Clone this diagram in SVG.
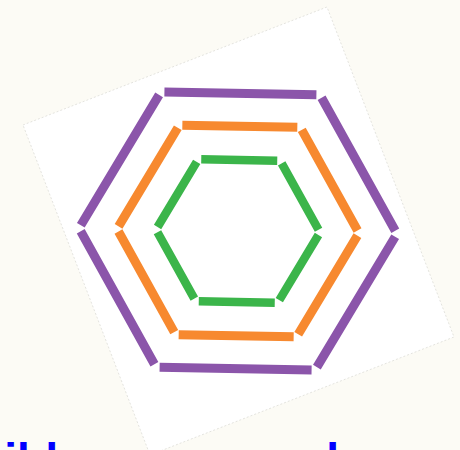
<svg xmlns="http://www.w3.org/2000/svg" width="460" height="450" viewBox="0 0 460 450">
  <style>
    .hex { fill: none; stroke-linecap: butt; }
    .purple { stroke: #8b55aa; stroke-width: 9; stroke-dasharray: 152 7; stroke-dashoffset: 155.5; }
    .orange { stroke: #f7892f; stroke-width: 9; stroke-dasharray: 115 6; stroke-dashoffset: 118; }
    .green { stroke: #3bb54a; stroke-width: 8.5; stroke-dasharray: 76 6; stroke-dashoffset: 79; }
    .title { font-family: "Liberation Sans", Arial, sans-serif; font-weight: bold; font-size: 46px; fill: #0000ff; }
  </style>
  <rect width="460" height="450" fill="#fcfbf5"/>
  <g id="card">
    <polygon points="23,125 327,7 454,337 150,455" fill="#ffffff" stroke="#d8d8d2" stroke-width="0.7" stroke-dasharray="2 2"/>
  </g>
  <g id="hexagons" transform="translate(238 231) rotate(1)">
    <g id="hex-purple">
      <polygon class="hex purple" points="159,0 79.5,137.698 -79.5,137.698 -159,0 -79.5,-137.698 79.5,-137.698"/>
    </g>
    <g id="hex-orange">
      <polygon class="hex orange" points="121,0 60.5,104.789 -60.5,104.789 -121,0 -60.5,-104.789 60.5,-104.789"/>
    </g>
    <g id="hex-green">
      <polygon class="hex green" points="82,0 41,71.014 -41,71.014 -82,0 -41,-71.014 41,-71.014"/>
    </g>
  </g>
  <g id="caption">
    <text class="title" x="-57" y="476">Build your own – hexagons</text>
  </g>
</svg>
